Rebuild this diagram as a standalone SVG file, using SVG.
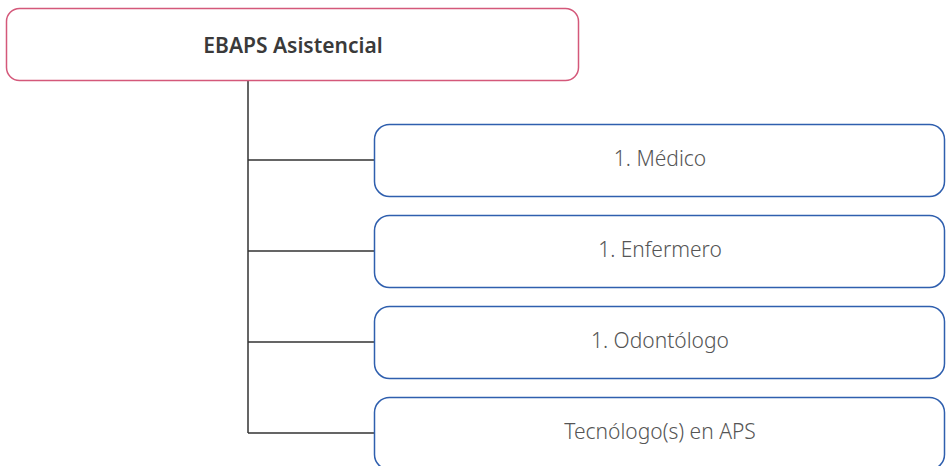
<svg xmlns="http://www.w3.org/2000/svg" width="946" height="466" viewBox="0 0 946 466">
<style>
.root{fill:#fff;stroke:#d4587a;stroke-width:1.5}
.child{fill:#fff;stroke:#2f5fae;stroke-width:1.5}
.t1{font-family:"Noto Sans","Open Sans",sans-serif;font-size:21px;font-weight:600;fill:#3a3a3a;text-anchor:middle}
.t2{font-family:"Noto Sans","Open Sans",sans-serif;font-size:21px;font-weight:300;fill:#555;text-anchor:middle}
.conn{stroke:#333;stroke-width:1.5;fill:none}
</style>
<rect width="946" height="466" fill="#fff"/>
<g id="connectors">
<path class="conn" d="M248 80 V433 M248 160 H374 M248 251 H374 M248 342 H374 M248 433 H374"/>
</g>
<g id="root">
<rect class="root" x="6.5" y="8.5" width="572" height="72" rx="13"/>
<text class="t1" x="293" y="53">EBAPS Asistencial</text>
</g>
<g id="medico">
<rect class="child" x="374.5" y="124.5" width="570" height="72" rx="15"/>
<text class="t2" x="660" y="166">1. Médico</text>
</g>
<g id="enfermero">
<rect class="child" x="374.5" y="215.5" width="570" height="72" rx="15"/>
<text class="t2" x="660" y="257">1. Enfermero</text>
</g>
<g id="odontologo">
<rect class="child" x="374.5" y="306.5" width="570" height="72" rx="15"/>
<text class="t2" x="660" y="348">1. Odontólogo</text>
</g>
<g id="tecnologo">
<rect class="child" x="374.5" y="397.5" width="570" height="72" rx="15"/>
<text class="t2" x="660" y="439">Tecnólogo(s) en APS</text>
</g>
</svg>
